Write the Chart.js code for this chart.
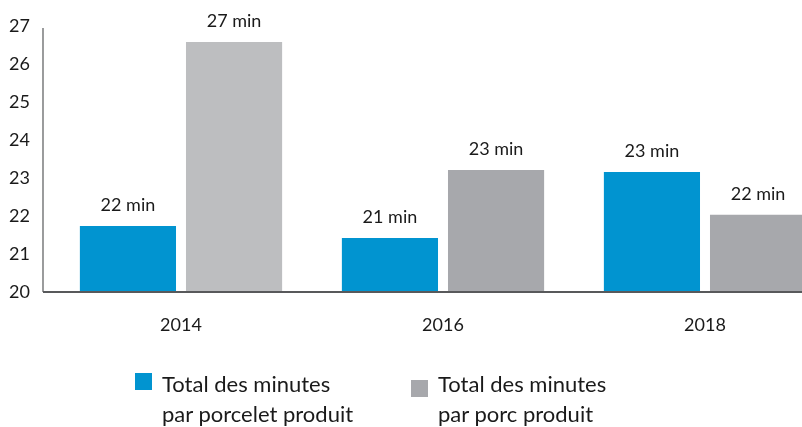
<!DOCTYPE html>
<html>
<head>
<meta charset="utf-8">
<script src="https://cdn.jsdelivr.net/npm/chart.js@4/dist/chart.umd.min.js"></script>
<style>
  html, body { margin: 0; padding: 0; background: #fff; overflow: hidden; }
  #wrap { position: relative; width: 802px; height: 427px; overflow: hidden; }
  #myChart { position: absolute; left: 0; top: 0; }
  .leg { position: absolute; font-family: Lato, sans-serif; font-size: 22px; line-height: 30px; color: #1a1a1a; }
  .sw { position: absolute; width: 17px; height: 17px; }
</style>
</head>
<body>
<div id="wrap">
  <canvas id="myChart" width="836" height="427"></canvas>
  <div class="sw" style="left:135px; top:373px; background:#0194d0;"></div>
  <div class="leg" style="left:162px; top:369px;">Total des minutes<br>par porcelet produit</div>
  <div class="sw" style="left:411px; top:380px; background:#a7a8ac;"></div>
  <div class="leg" style="left:438px; top:369px;">Total des minutes<br>par porc produit</div>
</div>
<script>
const years = ['2014', '2016', '2018'];
const porcelet = [21.74, 21.42, 23.16];
const porc = [26.58, 23.21, 22.03];
const porcColors = ['#bdbec0', '#a7a8ac', '#a7a8ac'];
const yTicks = [20, 21, 22, 23, 24, 25, 26, 27];

// labels "xx min" above each bar
const barLabels = {
    id: 'barLabels',
    afterDatasetsDraw(chart) {
        const ctx = chart.ctx;
        ctx.save();
        ctx.font = '18px Lato, sans-serif';
        ctx.fillStyle = '#1a1a1a';
        ctx.textAlign = 'center';
        ctx.textBaseline = 'bottom';
        chart.data.datasets.forEach((ds, i) => {
            chart.getDatasetMeta(i).data.forEach((bar, j) => {
                ctx.fillText(Math.round(ds.data[j]) + ' min', bar.x, bar.y - 12);
            });
        });
        ctx.restore();
    }
};

// axis lines, the y line sits a bit left of the first bar group
const axisLines = {
    id: 'axisLines',
    afterDraw(chart) {
        const a = chart.chartArea;
        const ctx = chart.ctx;
        ctx.save();
        ctx.strokeStyle = '#58595b';
        ctx.lineWidth = 1.2;
        ctx.beginPath();
        ctx.moveTo(43, a.top + 2);
        ctx.lineTo(43, a.bottom);
        ctx.stroke();
        ctx.lineWidth = 2;
        ctx.beginPath();
        ctx.moveTo(43, a.bottom);
        ctx.lineTo(a.right, a.bottom);
        ctx.stroke();
        ctx.restore();
    }
};

let myChart = document.getElementById('myChart').getContext('2d');

let barChart = new Chart(myChart, {
    type: 'bar',
    data: {
        labels: years,
        datasets: [
            {
                label: 'Total des minutes par porcelet produit',
                data: porcelet,
                backgroundColor: '#0194d0',
                barPercentage: 0.906,
                categoryPercentage: 0.81
            },
            {
                label: 'Total des minutes par porc produit',
                data: porc,
                backgroundColor: porcColors,
                barPercentage: 0.906,
                categoryPercentage: 0.81
            }
        ]
    },
    options: {
        responsive: false,
        animation: false,
        layout: { padding: 0 },
        plugins: {
            legend: { display: false },
            tooltip: { enabled: false }
        },
        scales: {
            x: {
                grid: { display: false, drawTicks: false },
                border: { display: false },
                ticks: { color: '#1a1a1a', font: { family: 'Lato', size: 18 }, padding: 22 },
                afterFit: (scale) => { scale.height = 135; }
            },
            y: {
                min: 20,
                max: 27,
                afterBuildTicks: (scale) => { scale.ticks = yTicks.map(v => ({ value: v })); },
                grid: { display: false, drawTicks: false },
                border: { display: false },
                ticks: { color: '#1a1a1a', font: { family: 'Lato', size: 18 }, padding: 20 },
                afterFit: (scale) => {
                    scale.width = 50;
                    scale.paddingTop = 26;
                    scale.paddingBottom = 0;
                }
            }
        }
    },
    plugins: [barLabels, axisLines]
});
</script>
</body>
</html>
